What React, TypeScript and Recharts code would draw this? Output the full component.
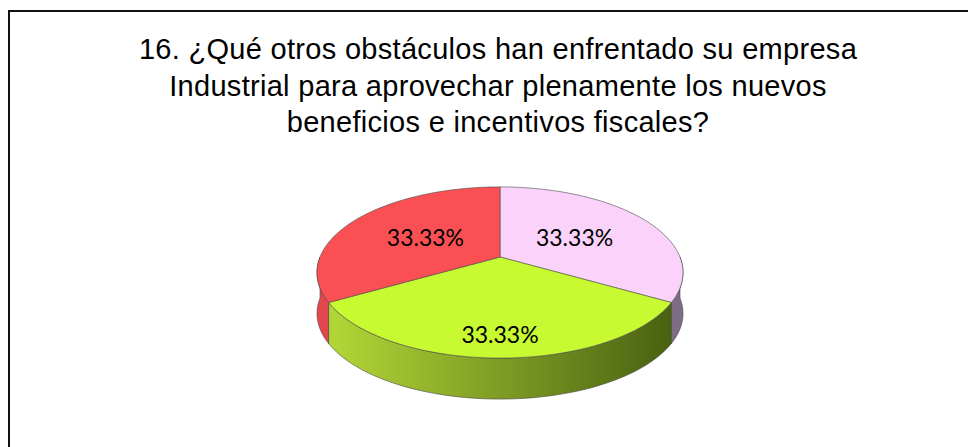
import { PieChart, Pie, Cell } from 'recharts';

const categories = ['Obstáculo A', 'Obstáculo B', 'Obstáculo C'];
const shares = [33.33, 33.33, 33.33];
const topColors = ['#fad2fa', '#c8fa32', '#fa5053'];
const sideColors = [
  ['#b9a3bf', '#7d6c84'],
  ['#b6da38', '#465e10'],
  ['#e4464d', '#b8343a'],
];
const titleLines = [
  '16. ¿Qué otros obstáculos han enfrentado su empresa',
  'Industrial para aprovechar plenamente los nuevos',
  'beneficios e incentivos fiscales?',
];

const data = categories.map((name, i) => ({ name, value: shares[i] }));

// tilted disk with a bit of perspective
const SQUASH = 0.46;
const PERSP = 0.181;
const DEPTH = 41;

function project(cx: number, cy: number, r: number, deg: number, f = 1) {
  const rad = (deg * Math.PI) / 180;
  const u = f * Math.cos(rad);
  const v = -f * Math.sin(rad);
  const d = 1 - PERSP * v;
  return [cx + (r * u) / d, cy + (r * SQUASH * v) / d];
}

function arcPoints(cx: number, cy: number, r: number, from: number, to: number, dy = 0) {
  const pts: string[] = [];
  const steps = Math.max(2, Math.ceil(Math.abs(from - to) / 2));
  for (let i = 0; i <= steps; i++) {
    const a = from + ((to - from) * i) / steps;
    const [x, y] = project(cx, cy, r, a);
    pts.push(`${x.toFixed(2)},${(y + dy).toFixed(2)}`);
  }
  return pts;
}

function renderSlice(props: any) {
  const { cx, cy, outerRadius, startAngle, endAngle, index } = props;
  const i = index ?? 0;
  const s = Math.max(startAngle, endAngle);
  const e = Math.min(startAngle, endAngle);
  const gid = `side-grad-${i}`;
  const sides: string[] = [];
  for (const n of [-1, 0, 1]) {
    const lo = Math.max(e, -180 + 360 * n);
    const hi = Math.min(s, 360 * n);
    if (hi > lo) {
      const top = arcPoints(cx, cy, outerRadius, hi, lo);
      const bottom = arcPoints(cx, cy, outerRadius, lo, hi, DEPTH);
      sides.push([...top, ...bottom].join(' '));
    }
  }
  const [x0, y0] = project(cx, cy, outerRadius, s);
  const face = [`${cx},${cy}`, `${x0},${y0}`, ...arcPoints(cx, cy, outerRadius, s, e)].join(' ');
  return (
    <g>
      <defs>
        <linearGradient id={gid} gradientUnits="userSpaceOnUse" x1={cx - outerRadius} y1={0} x2={cx + outerRadius} y2={0}>
          <stop offset="0%" stopColor={sideColors[i][0]} />
          <stop offset="100%" stopColor={sideColors[i][1]} />
        </linearGradient>
      </defs>
      {sides.map((p, k) => (
        <polygon key={k} points={p} fill={`url(#${gid})`} stroke="#4a4a4a" strokeWidth={0.6} strokeLinejoin="round" />
      ))}
      <polygon points={face} fill={topColors[i]} stroke="#4a4a4a" strokeWidth={0.6} strokeLinejoin="round" />
    </g>
  );
}

function renderLabel(props: any) {
  const { cx, cy, outerRadius, midAngle, percent } = props;
  const sin = Math.sin((midAngle * Math.PI) / 180);
  const f = 0.5 + 0.3 * Math.max(0, -sin);
  const [x, y] = project(cx, cy, outerRadius, midAngle, f);
  return (
    <text
      x={x}
      y={y}
      textAnchor="middle"
      dominantBaseline="central"
      fill="#000"
      style={{ fontFamily: 'Lato, sans-serif', fontSize: 23 }}
    >
      {`${(percent * 100).toFixed(2)}%`}
    </text>
  );
}

export default function App() {
  return (
    <div style={{ position: 'relative', width: 968, height: 439, overflow: 'hidden', background: '#fff' }}>
      <div
        style={{
          position: 'absolute',
          left: 0,
          top: 2,
          width: 1000,
          height: 500,
          border: '2px solid #111',
          boxSizing: 'border-box',
        }}
      />
      <div
        style={{
          position: 'absolute',
          left: 40,
          top: 23,
          width: 900,
          textAlign: 'center',
          fontFamily: "'Liberation Sans', Arial, sans-serif",
          fontSize: 29,
          letterSpacing: 0.3,
          lineHeight: '36.5px',
          color: '#000',
        }}
      >
        {titleLines.map((t) => (
          <div key={t}>{t}</div>
        ))}
      </div>
      <div style={{ position: 'absolute', left: 0, top: 0 }}>
        <PieChart width={968} height={439}>
          <Pie
            data={data}
            dataKey="value"
            nameKey="name"
            cx={487}
            cy={244}
            outerRadius={180}
            startAngle={90}
            endAngle={-270}
            shape={renderSlice}
            label={renderLabel}
            labelLine={false}
            isAnimationActive={false}
            stroke="none"
          >
            {data.map((d, i) => (
              <Cell key={d.name} fill={topColors[i]} />
            ))}
          </Pie>
        </PieChart>
      </div>
    </div>
  );
}
